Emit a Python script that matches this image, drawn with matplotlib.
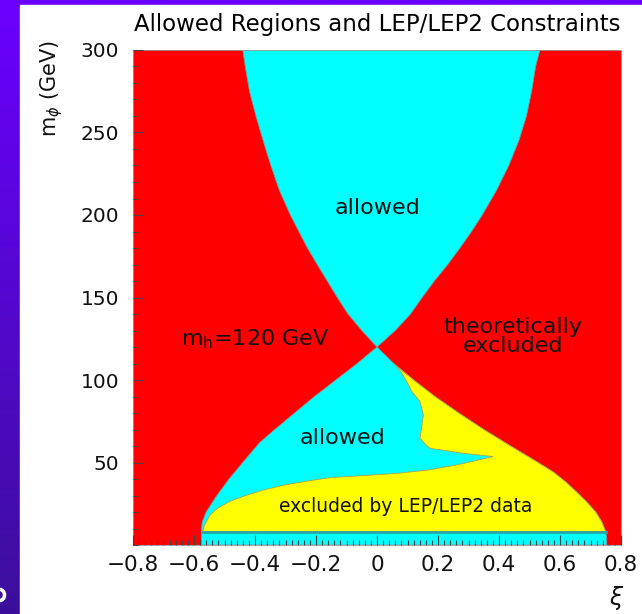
import matplotlib

matplotlib.use("Agg")
import matplotlib.pyplot as plt
import numpy as np
from matplotlib.colors import LinearSegmentedColormap
from matplotlib.patches import Ellipse, Rectangle
from matplotlib.ticker import FixedLocator, FixedFormatter, MultipleLocator

# theoretically allowed wedge above the Higgs mass (xi, m_phi in GeV)
m_up_left = [120, 130, 140, 150, 160, 170, 180, 190, 200, 215, 230, 245, 260, 275, 290, 300]
xi_up_left = [0.0, -0.050, -0.095, -0.130, -0.163, -0.196, -0.228, -0.256, -0.284,
              -0.320, -0.348, -0.373, -0.397, -0.418, -0.432, -0.440]
m_up_right = [120, 130, 140, 150, 160, 170, 180, 190, 200, 215, 230, 245, 260, 275, 290, 300]
xi_up_right = [0.0, 0.060, 0.110, 0.148, 0.188, 0.232, 0.272, 0.310, 0.345,
               0.392, 0.432, 0.465, 0.490, 0.507, 0.520, 0.534]

# theoretically allowed wedge below the Higgs mass
m_lo_left = [120, 110, 100, 90, 80, 70, 62, 50, 40, 30, 20, 14, 10, 0]
xi_lo_left = [0.0, -0.065, -0.135, -0.205, -0.270, -0.335, -0.385, -0.440, -0.485,
              -0.525, -0.560, -0.573, -0.575, -0.575]
m_lo_right = [120, 110, 100, 90, 80, 70, 60, 50, 44, 38, 32, 26, 20, 14, 8, 4, 0]
xi_lo_right = [0.0, 0.055, 0.120, 0.190, 0.268, 0.350, 0.438, 0.528, 0.580, 0.620,
               0.655, 0.688, 0.717, 0.737, 0.750, 0.753, 0.753]

# region excluded by LEP/LEP2 searches (outline, counter-clockwise from lower left)
xi_lep = [-0.572, -0.568, -0.560, -0.548, -0.525, -0.482, -0.430, -0.373, -0.300,
          -0.220, -0.154, -0.050, 0.065, 0.170, 0.261, 0.381,
          0.283, 0.174, 0.163, 0.141, 0.146, 0.152, 0.141, 0.114, 0.103, 0.081, 0.060,
          0.120, 0.190, 0.268, 0.350, 0.438, 0.528, 0.580, 0.620, 0.655, 0.688,
          0.717, 0.737, 0.750]
m_lep = [8, 11, 14, 18, 22, 26.5, 30, 33.3, 36.5,
         39, 40.8, 42, 43.4, 45.5, 48.5, 53.6,
         55.6, 58.6, 60.3, 64.7, 70.8, 78.9, 87, 93.1, 97.2, 104.3, 109,
         100, 90, 80, 70, 60, 50, 44, 38, 32, 26,
         20, 14, 8]
m_lep_floor = 8
xi_floor = [-0.572, 0.750]

m_h = 120
xtick_vals = [-0.8, -0.6, -0.4, -0.2, 0, 0.2, 0.4, 0.6, 0.8]
xtick_labels = ["\u22120.8", "\u22120.6", "\u22120.4", "\u22120.2", "0", "0.2", "0.4", "0.6", "0.8"]
ytick_vals = [50, 100, 150, 200, 250, 300]

RED = "#ff0000"
CYAN = "#00ffff"
YELLOW = "#ffff00"

W, H = 642, 614
fig = plt.figure(figsize=(W / 100, H / 100), dpi=100)

# slide background: purple gradient with a white panel
bg = fig.add_axes([0, 0, 1, 1], zorder=-10)
grad = np.linspace(0, 1, 256).reshape(-1, 1)
cmap = LinearSegmentedColormap.from_list("slide", ["#6a00ff", "#3c0f9c"])
bg.imshow(grad, extent=[0, 1, 0, 1], aspect="auto", cmap=cmap, origin="upper")
bg.add_patch(Rectangle((20 / W, 0), 1, 1 - 5 / H, color="white", zorder=2))
bg.add_patch(Ellipse((0, 1 - 595 / H), 9 / W, 11 / H, fc="none", ec="white", lw=2.5, zorder=3))
bg.set_xlim(0, 1)
bg.set_ylim(0, 1)
bg.axis("off")

ax = fig.add_axes([133 / W, 1 - 545 / H, 488 / W, 495 / H])
ax.set_facecolor(RED)

ax.fill(xi_up_left + xi_up_right[::-1], m_up_left + m_up_right[::-1],
        color=CYAN, lw=0.6, ec="#7a9a9a")
ax.fill(xi_lo_left + xi_lo_right[::-1], m_lo_left + m_lo_right[::-1],
        color=CYAN, lw=0.6, ec="#7a9a9a")
ax.fill(xi_lep, m_lep, color=YELLOW, lw=0.6, ec="#b0a050")
ax.plot(xi_floor, [m_lep_floor, m_lep_floor], color="#2aa6a6", lw=2)

txt = dict(family="DejaVu Sans", color="#111111", ha="center", va="center")
ax.text(0.0, 204, "allowed", fontsize=16, **txt)
ax.text(-0.114, 64.6, "allowed", fontsize=16, **txt)
ax.text(-0.40, 125, r"m$_\mathregular{h}$=%d GeV" % m_h, fontsize=16, **txt)
ax.text(0.447, 126.5, "theoretically\nexcluded", fontsize=16, linespacing=0.95, **txt)
ax.text(0.094, 23.2, "excluded by LEP/LEP2 data", fontsize=13.5, **txt)

ax.set_xlim(-0.8, 0.8)
ax.set_ylim(0, 300)
ax.xaxis.set_major_locator(FixedLocator(xtick_vals))
ax.xaxis.set_major_formatter(FixedFormatter(xtick_labels))
ax.xaxis.set_minor_locator(MultipleLocator(0.02))
ax.yaxis.set_major_locator(FixedLocator(ytick_vals))
ax.yaxis.set_minor_locator(MultipleLocator(10))
ax.tick_params(which="both", direction="in", color="#444444", width=0.8,
               labelcolor="#111111")
ax.tick_params(which="major", length=7)
ax.tick_params(which="minor", length=3.5)
ax.tick_params(axis="x", pad=7, labelsize=15.5)
ax.tick_params(axis="y", pad=10, labelsize=14.5)
ax.set_axisbelow(False)
for s in ax.spines.values():
    s.set_color("#9a9a9a")
    s.set_linewidth(0.6)

fig.text(377 / W, 1 - 25 / H, "Allowed Regions and LEP/LEP2 Constraints",
         fontsize=16.5, color="#000000", ha="center", va="center")
fig.text(52 / W, 1 - 88 / H, r"m$_\phi$ (GeV)", fontsize=15, rotation=90,
         color="#111111", ha="center", va="center")
fig.text(617 / W, 1 - 598 / H, r"$\xi$", fontsize=17, color="#111111",
         ha="center", va="center")

fig.savefig("out.png", dpi=100)
